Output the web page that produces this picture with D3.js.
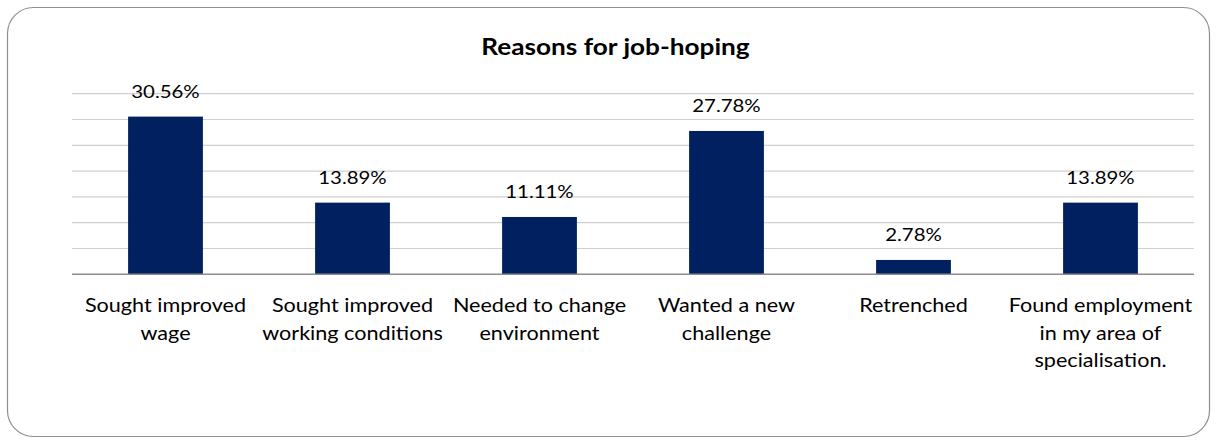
<!DOCTYPE html>
<html>
<head>
<meta charset="utf-8">
<script src="https://cdn.jsdelivr.net/npm/d3@7"></script>
<style>
  html, body { margin: 0; padding: 0; background: #fff; }
  svg { display: block; }
  text { font-family: Lato, "Open Sans", sans-serif; fill: #000; }
</style>
</head>
<body>
<svg id="chart" width="1217" height="440"></svg>
<script>
// Survey answers, share of respondents (%)
const categories = [
  "Sought improved\nwage",
  "Sought improved\nworking conditions",
  "Needed to change\nenvironment",
  "Wanted a new\nchallenge",
  "Retrenched",
  "Found employment\nin my area of\nspecialisation."
];
const shares = [30.56, 13.89, 11.11, 27.78, 2.78, 13.89];
const gridTicks = [0, 5, 10, 15, 20, 25, 30, 35];
const chartTitle = "Reasons for job-hoping";

const W = 1217, H = 440;
const margin = { left: 72, right: 23, top: 93.7, bottom: 165.7 };
const textStretch = 1.12; // slightly widened lettering
const svg = d3.select("#chart");

// Rounded outer frame
svg.append("rect")
  .attr("x", 7.5).attr("y", 7.5)
  .attr("width", W - 15).attr("height", H - 11)
  .attr("rx", 26).attr("ry", 26)
  .attr("fill", "#fff")
  .attr("stroke", "#8f8f8f")
  .attr("stroke-width", 1.2);

const x = d3.scaleBand()
  .domain(categories)
  .range([margin.left, W - margin.right])
  .padding(0);

const y = d3.scaleLinear()
  .domain([0, 35])
  .range([H - margin.bottom, margin.top]);

// Horizontal gridlines
svg.append("g")
  .selectAll("line")
  .data(gridTicks.filter(d => d > 0))
  .join("line")
  .attr("x1", margin.left).attr("x2", W - margin.right)
  .attr("y1", d => y(d)).attr("y2", d => y(d))
  .attr("stroke", "#d0d0d0")
  .attr("stroke-width", 1.2);

// Bars, 40% of each category slot
const barW = x.bandwidth() * 0.4;
svg.append("g")
  .selectAll("rect")
  .data(shares)
  .join("rect")
  .attr("x", (d, i) => x(categories[i]) + (x.bandwidth() - barW) / 2)
  .attr("y", d => y(d))
  .attr("width", barW)
  .attr("height", d => y(0) - y(d))
  .attr("fill", "#002060");

// Category axis line
svg.append("line")
  .attr("x1", margin.left).attr("x2", W - margin.right)
  .attr("y1", y(0)).attr("y2", y(0))
  .attr("stroke", "#8c8c8c")
  .attr("stroke-width", 1.6);

// Value labels
svg.append("g")
  .selectAll("g")
  .data(shares)
  .join("g")
  .attr("transform", (d, i) =>
    `translate(${x(categories[i]) + x.bandwidth() / 2},${y(d) - 18.5}) scale(${textStretch},1)`)
  .append("text")
  .attr("text-anchor", "middle")
  .attr("font-size", 18.2)
  .text(d => d.toFixed(2) + "%");

// Category labels (multi-line)
const catG = svg.append("g")
  .selectAll("g")
  .data(categories)
  .join("g")
  .attr("transform", d => `translate(${x(d) + x.bandwidth() / 2},312) scale(${textStretch},1)`)
  .append("text")
  .attr("text-anchor", "middle")
  .attr("font-size", 19.3);
catG.selectAll("tspan")
  .data(d => d.split("\n"))
  .join("tspan")
  .attr("x", 0)
  .attr("dy", (d, i) => i === 0 ? 0 : 27.7)
  .text(d => d);

// Title, centred on the frame
svg.append("g")
  .attr("transform", `translate(${W / 2 + 7},55) scale(${textStretch},1)`)
  .append("text")
  .attr("text-anchor", "middle")
  .attr("font-size", 23.4)
  .attr("font-weight", "bold")
  .text(chartTitle);
</script>
</body>
</html>
